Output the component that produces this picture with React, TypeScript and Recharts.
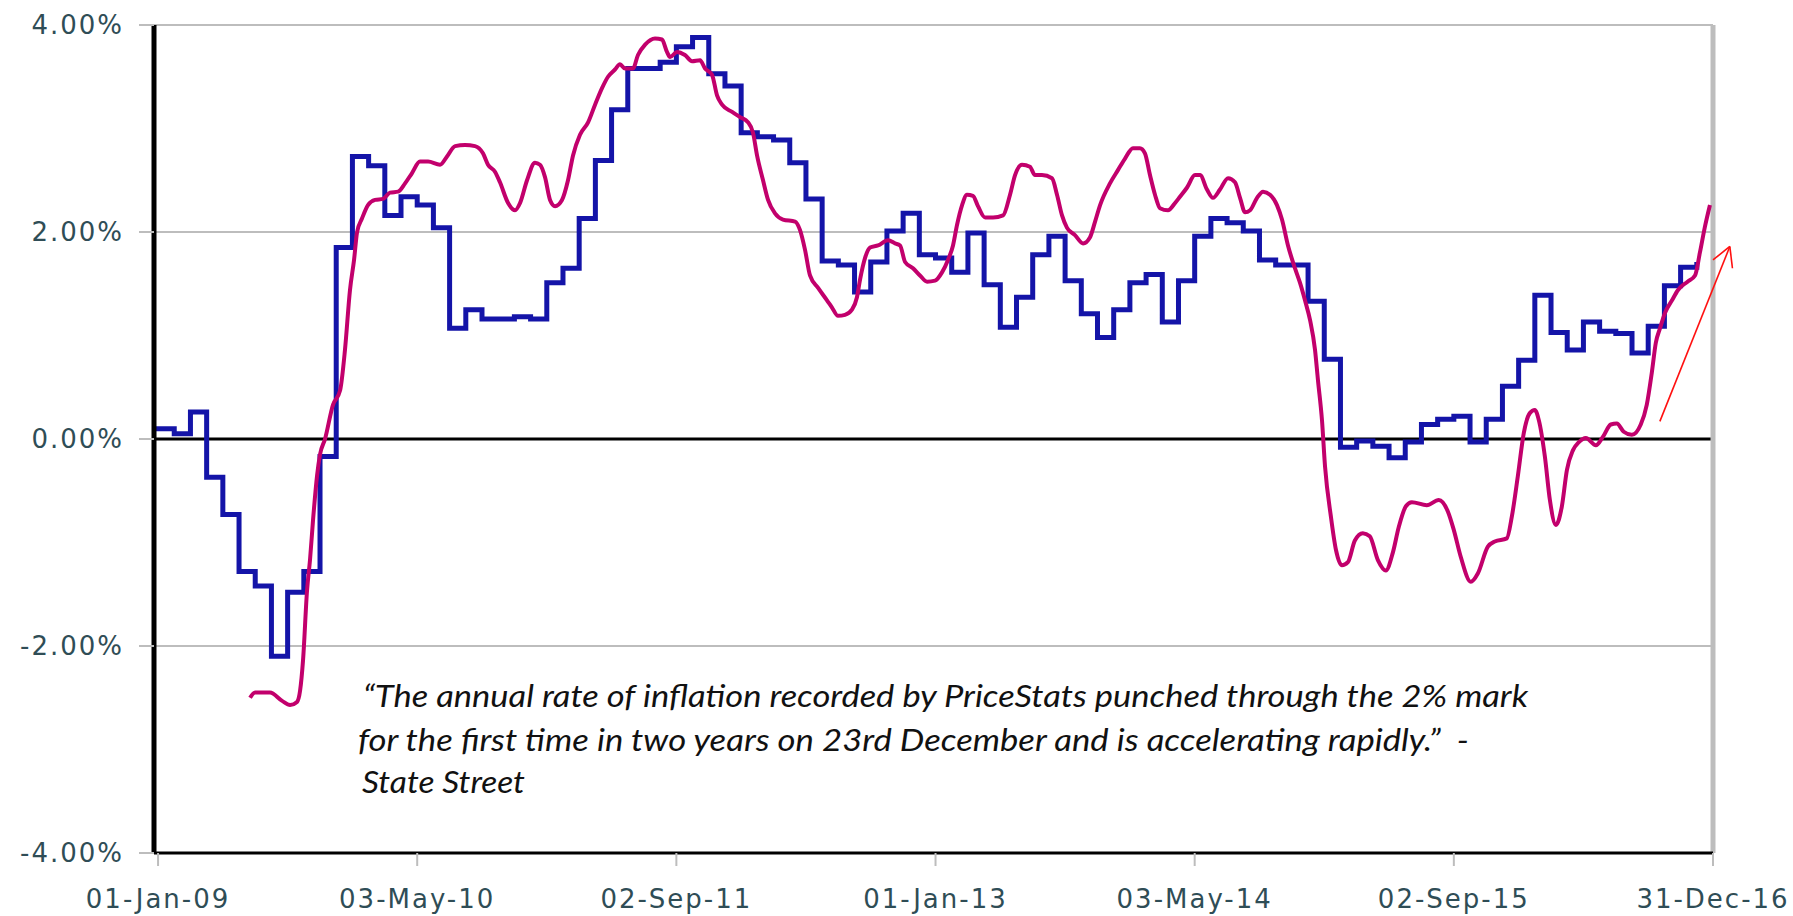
import { LineChart, Line, XAxis, YAxis, CartesianGrid, ReferenceLine } from 'recharts';

// x axis is in months since 01-Jan-09
const xTickMonths = [0, 16, 32, 48, 64, 80, 96];
const xTickLabels = ['01-Jan-09', '03-May-10', '02-Sep-11', '01-Jan-13', '03-May-14', '02-Sep-15', '31-Dec-16'];
const yTicks = [-4, -2, 0, 2, 4];

// official CPI (blue, monthly steps)
const cpiMonths = [
  -0.25, 1, 2, 3, 4, 5, 6, 7, 8, 9, 10, 11, 12, 13, 14, 15, 16, 17, 18, 19, 20, 21, 22, 23, 24,
  25, 26, 27, 28, 29, 30, 31, 32, 33, 34, 35, 36, 37, 38, 39, 40, 41, 42, 43, 44, 45, 46, 47, 48,
  49, 50, 51, 52, 53, 54, 55, 56, 57, 58, 59, 60, 61, 62, 63, 64, 65, 66, 67, 68, 69, 70, 71, 72,
  73, 74, 75, 76, 77, 78, 79, 80, 81, 82, 83, 84, 85, 86, 87, 88, 89, 90, 91, 92, 93, 94, 95,
];
const cpiValues = [
  0.10, 0.05, 0.26, -0.37, -0.73, -1.28, -1.42, -2.10, -1.48, -1.28, -0.17, 1.85, 2.73, 2.64, 2.16, 2.34, 2.26, 2.04, 1.07, 1.25, 1.16, 1.16, 1.18, 1.16, 1.51,
  1.65, 2.13, 2.69, 3.18, 3.58, 3.58, 3.64, 3.79, 3.88, 3.53, 3.41, 2.96, 2.92, 2.89, 2.67, 2.32, 1.72, 1.68, 1.42, 1.71, 2.01, 2.18, 1.78, 1.75,
  1.61, 1.99, 1.49, 1.08, 1.37, 1.78, 1.96, 1.53, 1.21, 0.98, 1.25, 1.51, 1.59, 1.13, 1.53, 1.96, 2.13, 2.09, 2.01, 1.73, 1.68, 1.68, 1.33, 0.77,
  -0.08, -0.02, -0.07, -0.18, -0.03, 0.14, 0.19, 0.22, -0.03, 0.19, 0.51, 0.76, 1.39, 1.03, 0.86, 1.13, 1.04, 1.02, 0.83, 1.09, 1.48, 1.66, 1.71,
];

// PriceStats daily index (magenta)
const psMonths = [
  5.68, 5.99, 6.91, 7.66, 8.15, 8.58, 8.77, 8.95, 9.2, 9.38, 9.57, 9.82, 10.0, 10.31, 10.8, 11.24, 11.54, 11.85, 12.1, 12.29,
  12.59, 12.96, 13.4, 13.89, 14.32, 14.82, 15.25, 15.68, 16.17, 16.67, 17.41, 17.84, 18.34, 18.95, 19.57, 20.06, 20.37, 20.81, 21.11, 21.61,
  22.04, 22.35, 22.78, 23.27, 23.58, 23.89, 24.2, 24.51, 24.94, 25.31, 25.62, 26.05, 26.55, 26.98, 27.41, 27.78, 28.21, 28.52, 28.83, 29.32,
  29.63, 30.07, 30.68, 31.11, 31.42, 31.61, 32.04, 32.53, 32.97, 33.46, 33.77, 34.2, 34.51, 34.82, 35.44, 35.93, 36.42, 36.73, 36.98, 37.35,
  37.66, 38.09, 38.58, 39.33, 39.63, 39.94, 40.25, 40.75, 41.3, 41.61, 41.98, 42.41, 42.84, 43.15, 43.34, 43.65, 43.96, 44.45, 45.07, 45.5,
  45.81, 46.12, 46.61, 47.04, 47.48, 47.97, 48.4, 48.77, 49.08, 49.33, 49.64, 49.94, 50.31, 50.62, 51.06, 51.55, 52.17, 52.6, 52.91, 53.34,
  53.83, 54.14, 54.57, 55.19, 55.5, 55.81, 56.12, 56.61, 57.11, 57.54, 57.85, 58.16, 58.77, 59.27, 59.7, 60.19, 60.62, 60.93, 61.24, 61.55,
  61.86, 62.35, 62.79, 63.09, 63.53, 64.02, 64.33, 64.76, 65.13, 65.56, 66.06, 66.49, 66.8, 67.11, 67.42, 67.85, 68.22, 68.65, 69.08, 69.39,
  69.76, 70.19, 70.5, 70.81, 71.12, 71.43, 71.61, 71.86, 72.05, 72.41, 72.72, 73.09, 73.46, 73.89, 74.38, 74.81, 75.31, 75.8, 76.23, 76.6,
  77.04, 77.41, 78.33, 79.07, 79.63, 80.0, 80.43, 81.05, 81.48, 82.1, 82.53, 83.27, 83.58, 83.95, 84.32, 84.69, 85.0, 85.25, 85.62, 85.93,
  86.3, 86.67, 86.98, 87.35, 87.72, 88.15, 88.77, 89.2, 89.69, 90.06, 90.49, 90.99, 91.54, 91.91, 92.23, 92.47, 92.73, 93.04, 93.47, 93.84,
  94.43, 94.89, 95.19, 95.5, 95.81,
];
const psValues = [
  -2.5, -2.45, -2.45, -2.53, -2.57, -2.54, -2.43, -2.14, -1.46, -1.17, -0.78, -0.35, -0.15, 0.0, 0.33, 0.47, 0.86, 1.44, 1.73, 2.0,
  2.13, 2.26, 2.31, 2.32, 2.38, 2.39, 2.47, 2.57, 2.68, 2.68, 2.65, 2.73, 2.83, 2.84, 2.83, 2.76, 2.65, 2.58, 2.48, 2.28,
  2.21, 2.28, 2.5, 2.67, 2.65, 2.53, 2.31, 2.25, 2.31, 2.5, 2.74, 2.94, 3.06, 3.23, 3.39, 3.5, 3.57, 3.62, 3.58, 3.58,
  3.71, 3.81, 3.87, 3.86, 3.74, 3.69, 3.74, 3.71, 3.65, 3.66, 3.58, 3.52, 3.32, 3.23, 3.16, 3.11, 3.06, 2.96, 2.74, 2.5,
  2.31, 2.18, 2.12, 2.1, 2.02, 1.83, 1.58, 1.46, 1.34, 1.27, 1.19, 1.2, 1.25, 1.37, 1.54, 1.75, 1.85, 1.87, 1.92, 1.89,
  1.87, 1.71, 1.65, 1.58, 1.52, 1.53, 1.61, 1.73, 1.87, 2.07, 2.26, 2.36, 2.35, 2.25, 2.14, 2.14, 2.16, 2.36, 2.55, 2.65,
  2.63, 2.55, 2.55, 2.52, 2.36, 2.16, 2.04, 1.97, 1.89, 1.95, 2.1, 2.26, 2.47, 2.6, 2.71, 2.81, 2.81, 2.76, 2.55, 2.36,
  2.23, 2.21, 2.28, 2.34, 2.43, 2.55, 2.55, 2.41, 2.33, 2.41, 2.52, 2.48, 2.33, 2.19, 2.21, 2.33, 2.39, 2.36, 2.26, 2.12,
  1.87, 1.65, 1.51, 1.34, 1.15, 0.86, 0.57, 0.18, -0.27, -0.75, -1.07, -1.22, -1.19, -0.98, -0.91, -0.94, -1.17, -1.27, -1.1, -0.85,
  -0.65, -0.61, -0.64, -0.59, -0.7, -0.88, -1.14, -1.38, -1.3, -1.04, -0.99, -0.96, -0.75, -0.36, 0.06, 0.25, 0.28, 0.18, -0.17, -0.59,
  -0.83, -0.65, -0.3, -0.11, -0.03, 0.01, -0.06, 0.02, 0.14, 0.15, 0.07, 0.04, 0.14, 0.33, 0.65, 0.93, 1.07, 1.22, 1.34, 1.44,
  1.52, 1.58, 1.8, 2.05, 2.26,
];

const quoteLines = [
  '\u201CThe annual rate of inflation recorded by PriceStats punched through the 2% mark',
  'for the first time in two years on 23rd December and is accelerating rapidly.\u201D  -',
  'State Street',
];

const cpiData = cpiMonths.map((m, i) => ({ m, v: cpiValues[i] }));
const psData = psMonths.map((m, i) => ({ m, v: psValues[i] }));

const labelColor = '#2f4d56';
const gridColor = '#bdbdbd';
const tickFont = { fill: labelColor, fontSize: 26, fontFamily: 'DejaVu Sans', letterSpacing: 2 };
const quoteFont = { fontFamily: 'Lato', fontStyle: 'italic', fontSize: 31, fill: '#111' };

export default function App() {
  return (
    <div style={{ position: 'absolute', left: 0, top: 0, width: 1793, height: 916, background: '#fff' }}>
      <LineChart width={1793} height={916} margin={{ top: 25, right: 80, bottom: 0, left: 0 }}>
        <CartesianGrid vertical={false} stroke={gridColor} strokeWidth={2} />
        <XAxis
          type="number"
          dataKey="m"
          domain={[-0.25, 96]}
          ticks={xTickMonths}
          interval={0}
          allowDataOverflow
          tickFormatter={(v: number) => xTickLabels[xTickMonths.indexOf(v)] ?? ''}
          height={63}
          tickSize={13}
          tickMargin={24}
          axisLine={{ stroke: '#000', strokeWidth: 3 }}
          tickLine={{ stroke: gridColor, strokeWidth: 2 }}
          tick={tickFont}
        />
        <YAxis
          type="number"
          domain={[-4, 4]}
          ticks={yTicks}
          interval={0}
          tickFormatter={(v: number) => `${v.toFixed(2)}%`}
          width={154}
          tickSize={15}
          tickMargin={15}
          axisLine={{ stroke: '#000', strokeWidth: 5 }}
          tickLine={{ stroke: gridColor, strokeWidth: 2 }}
          tick={tickFont}
        />
        <ReferenceLine y={0} stroke="#000" strokeWidth={3} />
        <ReferenceLine x={96} stroke={gridColor} strokeWidth={5} />
        <Line
          data={cpiData}
          dataKey="v"
          type="stepAfter"
          stroke="#1414a8"
          strokeWidth={5}
          dot={false}
          isAnimationActive={false}
        />
        <Line
          data={psData}
          dataKey="v"
          type="monotone"
          stroke="#c2006c"
          strokeWidth={4}
          dot={false}
          isAnimationActive={false}
        />
        {/* red arrow annotation */}
        <ReferenceLine segment={[{ x: 92.72, y: 0.17 }, { x: 97.04, y: 1.86 }]} stroke="#ff1010" strokeWidth={1.6} ifOverflow="visible" />
        <ReferenceLine segment={[{ x: 97.04, y: 1.86 }, { x: 96.0, y: 1.73 }]} stroke="#ff1010" strokeWidth={1.6} ifOverflow="visible" />
        <ReferenceLine segment={[{ x: 97.04, y: 1.86 }, { x: 97.2, y: 1.65 }]} stroke="#ff1010" strokeWidth={1.6} ifOverflow="visible" />
      </LineChart>
      <svg width={1793} height={916} style={{ position: 'absolute', left: 0, top: 0, pointerEvents: 'none' }}>
        <text x={363} y={707} {...quoteFont} textLength={1165} lengthAdjust="spacingAndGlyphs" style={{ whiteSpace: 'pre' }}>
          {quoteLines[0]}
        </text>
        <text x={358} y={751} {...quoteFont} textLength={1111} lengthAdjust="spacingAndGlyphs" style={{ whiteSpace: 'pre' }}>
          {quoteLines[1]}
        </text>
        <text x={362} y={793} {...quoteFont} textLength={163} lengthAdjust="spacingAndGlyphs" style={{ whiteSpace: 'pre' }}>
          {quoteLines[2]}
        </text>
      </svg>
    </div>
  );
}
